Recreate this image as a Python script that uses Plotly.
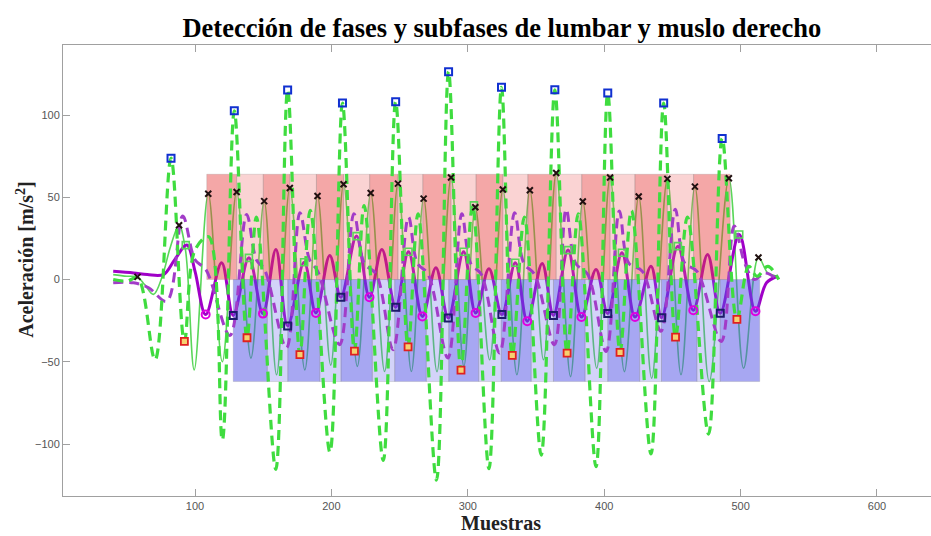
import plotly.graph_objects as go

# ---------------- data ----------------
# dashed green signal (muslo)
dg_x = [40, 50, 58, 70.7, 82.4, 92.2, 100, 110, 120, 128.8, 138.1, 145, 159.2, 167.9, 176.9, 184.5,
        198.9, 208.1, 216.9, 224, 238, 247.1, 256.2, 263.5, 277, 285.9, 295, 303.5, 315.5, 324.7,
        332.6, 341.5, 353.8, 363.8, 372.8, 381, 394, 402.6, 411.6, 420, 434.3, 443.6, 452.3, 461,
        476.5, 486.5, 497.3, 506, 512, 520, 528]
dg_y = [0, -1, 1, -48.8, 73.8, -37.6, 18, 26, -97.6, 102.6, -35.4, 38, -115.4, 115.2, -45.7, 42,
        -105, 107.3, -43.5, 45, -110, 108.1, -40.9, 40, -122, 126.4, -55.1, 45, -115, 116.9,
        -46.1, 38, -106.7, 115.4, -44.7, 40, -113.8, 113.4, -44.3, 42, -106, 107.3, -35, 38,
        -94, 85.8, -24.2, 8, 2, 8, 0]

# dashed purple signal
dp_x = [40, 55, 66, 79.3, 91, 100, 108, 125.6, 137.8, 145, 151, 167, 176.9, 184, 190, 206, 216.5,
        224, 233, 245.2, 256.5, 263, 271, 285.4, 295.6, 302, 310, 323.3, 334.3, 341, 349, 363.5,
        372.1, 379, 388, 401.4, 411.1, 418, 428, 441.6, 452.1, 459, 468, 485.8, 495.3, 503, 510,
        518, 527]
dp_y = [-2, -2, -5, -13.2, 38.6, 12, 6, -34, 39.6, 12, 6, -41.6, 40.6, 12, 5, -39.6, 40,
        10, 3, -42.7, 38, 10, 3, -47.7, 40, 10, 3, -44.7, 40.6, 10, 3, -39.6,
        42.7, 10, 3, -43.7, 41.7, 10, 5, -31.5, 42.7, 10, 5, -37.6, 32.5, 10, 0,
        4, 0]

# solid purple signal (lumbar)
sp_x = [40, 55, 65, 76.8, 85, 94, 100, 107.8, 119.5, 128, 139.5, 149.8, 159.3, 167.9, 180, 188.6,
        198.8, 206.9, 218.4, 227.9, 237, 247.1, 256.5, 266.7, 276.6, 285.7, 296.9, 305.7, 315.5,
        325, 334.8, 343.6, 354.5, 362.8, 373.5, 383.3, 394, 402.6, 413, 422.6, 434.3, 442.1, 454,
        465.3, 475.8, 485.1, 499, 510.9, 519, 527]
sp_y = [5, 4, 3, 3, 12, 21, 5, -21.3, 10.2, -21.8, 13.2, -20.7, 18.3, -28.2, 10.5, -20.3,
        14.6, -10.8, 26.4, -10.8, 18.3, -16.9, 16.9, -22.4, 7.1, -23.4, 16.9, -20.3, 6.5,
        -21.3, 10.2, -25.4, 9.8, -21.8, 17.9, -22.8, 6.1, -20.7, 16.3, -22.8, 8.1, -23.2, 20.3,
        -18.7, 15.2, -20.5, 27.4, -19.3, -2, 2]

# solid green signal
sg_x = [40, 50, 57.8, 63, 69.5, 76, 82, 88.3, 93, 99.4, 109.7, 120, 130.5, 141, 150.7, 159.8,
        169.5, 180.5, 189.8, 199.5, 208.9, 219, 228.8, 239, 248.8, 258.6, 267.6, 277.4, 287.7,
        297.1, 305.5, 316, 325.7, 336, 345.5, 355.5, 364.8, 375.3, 384.3, 394.5, 404.3, 414.8,
        425.3, 434.8, 446.3, 456.3, 466.5, 477, 491.4, 502.2, 513.1, 520, 527]
sg_y = [3, 2, 1.6, -3, -9, 2, 20, 33, 18, -54.9, 52.2, -50, 53.2, -47.8, 47.7, -57.9,
        55.7, -54.9, 50.8, -52, 57.9, -52.8, 52.6, -55.9, 58.3, -55.9, 49.2, -56, 62,
        -52.8, 44, -48.8, 54.7, -57.9, 54.3, -48.8, 64.8, -59, 47.4, -53.9, 62, -56,
        50.5, -60, 61.2, -57.9, 56.5, -62, 61.6, -53.9, 13.4, 4, 2]

# event markers
blue_sq_x = [82.4, 128.8, 167.9, 208.1, 247.1, 285.9, 324.7, 363.8, 402.6, 443.6, 486.5]
blue_sq_y = [73.8, 102.6, 115.2, 107.3, 108.1, 126.4, 116.9, 115.4, 113.4, 107.3, 85.8]

cross_x = [57.8, 88.3, 109.7, 130.5, 150.7, 169.5, 189.8, 208.9, 228.8, 248.8, 267.6, 287.7,
           305.5, 325.7, 345.5, 364.8, 384.3, 404.3, 425.3, 446.3, 466.5, 491.4, 513.1]
cross_y = [1.6, 33, 52.2, 53.2, 47.7, 55.7, 50.8, 57.9, 52.6, 58.3, 49.2, 62,
           44, 54.7, 54.3, 64.8, 47.4, 62, 50.5, 61.2, 56.5, 61.6, 13.4]

red_sq_x = [92.2, 138.1, 176.9, 216.9, 256.2, 295, 332.6, 372.8, 411.6, 452.3, 497.3]
red_sq_y = [-37.6, -35.4, -45.7, -43.5, -40.9, -55.1, -46.1, -44.7, -44.3, -35, -24.2]

navy_sq_x = [128, 167.9, 206.9, 247.1, 285.7, 325, 362.8, 402.6, 442.1, 485.1]
navy_sq_y = [-21.8, -28.2, -10.8, -16.9, -23.4, -21.3, -21.8, -20.7, -23.2, -20.5]

mag_circ_x = [107.8, 149.8, 188.6, 227.9, 266.7, 305.7, 343.6, 383.3, 422.6, 465.3, 510.9]
mag_circ_y = [-21.3, -20.7, -20.3, -10.8, -22.4, -20.3, -25.4, -22.8, -22.8, -18.7, -19.3]

green_sq_x = [93.2, 139.5, 180, 218.4, 256.5, 296.9, 304.5, 334.8, 373.5, 413, 454, 499]
green_sq_y = [20.9, 13.2, 10.5, 26.4, 16.9, 16.9, 45.1, 10.2, 17.9, 16.3, 20.3, 27.4]

# phase / subphase band edges
pink_edges = [108.6, 130.5, 150, 169.5, 189, 208.9, 228, 248.8, 267, 287.7, 306, 325.7, 344,
              364.8, 383.5, 404.3, 422.5, 446.3, 465.5, 492.4]
pink_top = 64
blue_edges = [128, 153, 168, 191.5, 207, 230, 246.4, 269.6, 286, 308, 324.5, 346.5, 362.8,
              386, 402.6, 426, 442, 468, 485, 514]
blue_bottom = -62

# ---------------- figure ----------------
fig = go.Figure()

fig.add_trace(go.Scatter(x=sg_x, y=sg_y, mode="lines", line=dict(color="#5ad65a", width=1.6, shape="spline", smoothing=1.0),
                         hoverinfo="skip", showlegend=False))
fig.add_trace(go.Scatter(x=sp_x, y=sp_y, mode="lines", line=dict(color="#a000c8", width=3, shape="spline", smoothing=1.0),
                         hoverinfo="skip", showlegend=False))


def band_polys(edges, y0, y1, parity):
    xs, ys = [], []
    for i in range(len(edges) - 1):
        if i % 2 != parity:
            continue
        a, b = edges[i], edges[i + 1]
        xs += [a, b, b, a, a, None]
        ys += [y0, y0, y1, y1, y0, None]
    return xs, ys


band_styles = [
    (pink_edges, 0, pink_top, 0, "rgba(230,60,60,0.45)"),
    (pink_edges, 0, pink_top, 1, "rgba(240,110,110,0.30)"),
    (blue_edges, blue_bottom, 0, 0, "rgba(80,80,230,0.50)"),
    (blue_edges, blue_bottom, 0, 1, "rgba(110,110,235,0.30)"),
]
for edges, y0, y1, par, col in band_styles:
    bx, by = band_polys(edges, y0, y1, par)
    fig.add_trace(go.Scatter(x=bx, y=by, mode="lines", fill="toself", fillcolor=col,
                             line=dict(color="rgba(120,120,120,0.35)", width=0.6),
                             hoverinfo="skip", showlegend=False))

fig.add_trace(go.Scatter(x=dp_x, y=dp_y, mode="lines",
                         line=dict(color="#a23cc8", width=3, dash="10px,6px", shape="spline", smoothing=1.0),
                         hoverinfo="skip", showlegend=False))
fig.add_trace(go.Scatter(x=dg_x, y=dg_y, mode="lines",
                         line=dict(color="#3fdc3f", width=3.2, dash="10px,6px", shape="spline", smoothing=1.0),
                         hoverinfo="skip", showlegend=False))

fig.add_trace(go.Scatter(x=green_sq_x, y=green_sq_y, mode="markers",
                         marker=dict(symbol="square-open", size=7, color="#5ad65a", line=dict(width=1.6)),
                         hoverinfo="skip", showlegend=False))
fig.add_trace(go.Scatter(x=mag_circ_x, y=mag_circ_y, mode="markers",
                         marker=dict(symbol="circle-open", size=8, color="#e000e0", line=dict(width=2)),
                         hoverinfo="skip", showlegend=False))
fig.add_trace(go.Scatter(x=navy_sq_x, y=navy_sq_y, mode="markers",
                         marker=dict(symbol="square-open", size=7, color="#1c1c6a", line=dict(width=2)),
                         hoverinfo="skip", showlegend=False))
fig.add_trace(go.Scatter(x=red_sq_x, y=red_sq_y, mode="markers",
                         marker=dict(symbol="square", size=7, color="#f6d070", line=dict(width=1.8, color="#e02020")),
                         hoverinfo="skip", showlegend=False))
fig.add_trace(go.Scatter(x=cross_x, y=cross_y, mode="markers",
                         marker=dict(symbol="x-thin-open", size=6, color="#201010", line=dict(width=2, color="#201010")),
                         hoverinfo="skip", showlegend=False))
fig.add_trace(go.Scatter(x=blue_sq_x, y=blue_sq_y, mode="markers",
                         marker=dict(symbol="square-open", size=7, color="#1030d0", line=dict(width=2)),
                         hoverinfo="skip", showlegend=False))

axis_col = "#a0a0a0"
tick_font = dict(family="Liberation Sans, Arial, sans-serif", size=11, color="#555555")
serif = "Liberation Serif, Times New Roman, serif"

fig.update_layout(
    width=931, height=536,
    margin=dict(l=63, r=0, t=45, b=40),
    paper_bgcolor="white", plot_bgcolor="white",
    title=dict(text="<b>Detección de fases y subfases de lumbar y muslo derecho</b>",
               font=dict(family=serif, size=26.5, color="black"),
               x=0.539, xref="container", xanchor="center", y=0.948, yref="container", yanchor="middle"),
    xaxis=dict(range=[3.2, 639.6], tickvals=[100, 200, 300, 400, 500, 600], showgrid=False, zeroline=False,
               showline=True, linecolor=axis_col, linewidth=1, mirror="ticks", ticks="inside", ticklen=7,
               tickcolor=axis_col, tickfont=tick_font),
    yaxis=dict(range=[-131.6, 142.6], tickvals=[-100, -50, 0, 50, 100], showgrid=False, zeroline=False,
               showline=True, linecolor=axis_col, linewidth=1, ticks="inside", ticklen=7,
               tickcolor=axis_col, tickfont=tick_font),
    annotations=[
        dict(text="<b>Muestras</b>", xref="paper", yref="paper", x=(501 - 63) / 868, y=-0.06,
             xanchor="center", yanchor="middle", showarrow=False, font=dict(family=serif, size=20, color="#222")),
        dict(text="<b>Aceleración [m/s<sup>2</sup>]</b>", xref="paper", yref="paper", x=-0.044,
             y=(496 - 260) / 451, xanchor="center", yanchor="middle", textangle=-90, showarrow=False,
             font=dict(family=serif, size=20, color="#222")),
    ],
)

fig.write_html("out.html")
